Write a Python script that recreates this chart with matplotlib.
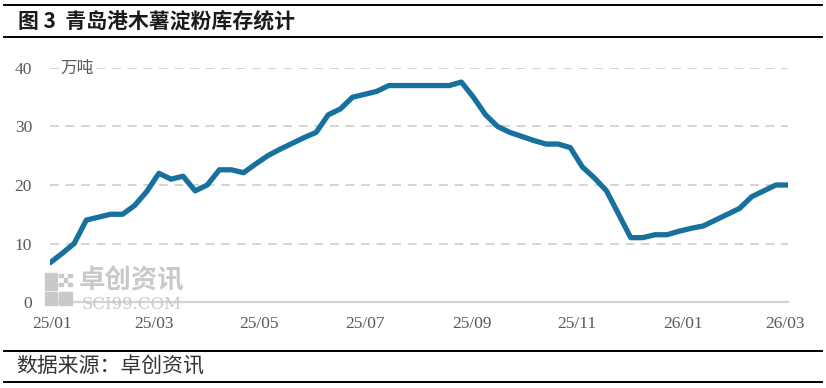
import matplotlib
matplotlib.use('Agg')
import matplotlib.pyplot as plt
import matplotlib.patches as mpatches
from matplotlib.lines import Line2D
import pandas as pd

plt.rcParams['font.family'] = ['Liberation Serif', 'Noto Sans CJK SC', 'DejaVu Sans']

# ---- data ----
inventory = [6.7, 8.3, 10.0, 14.0, 14.5, 15.0, 15.0, 16.5, 18.9, 22.0,
             21.0, 21.5, 19.0, 20.0, 22.6, 22.6, 22.1, 23.6, 25.0, 26.1,
             27.1, 28.1, 29.0, 32.0, 33.0, 35.0, 35.5, 36.0, 37.0, 37.0,
             37.0, 37.0, 37.0, 37.0, 37.6, 35.0, 32.0, 30.0, 29.0, 28.3,
             27.6, 27.0, 27.0, 26.4, 23.1, 21.2, 19.0, 15.0, 11.0, 11.0,
             11.5, 11.5, 12.1, 12.6, 13.0, 14.0, 15.0, 16.0, 18.0, 19.0,
             20.0, 20.0]
start_date = '2024-12-31'
tick_dates = ['2025-01-01', '2025-03-01', '2025-05-01', '2025-07-01',
              '2025-09-01', '2025-11-01', '2026-01-01', '2026-03-01']
tick_labels = ['25/01', '25/03', '25/05', '25/07', '25/09', '25/11', '26/01', '26/03']
y_ticks = [0, 10, 20, 30, 40]
title = '图 3  青岛港木薯淀粉库存统计'
unit = '万吨'
source = '数据来源：卓创资讯'

dates = pd.date_range(start_date, periods=len(inventory), freq='7D')
tdates = pd.to_datetime(tick_dates)

W, H = 826, 388
fig = plt.figure(figsize=(W / 100, H / 100), dpi=100)

def fx(px):
    return px / W

def fy(py):
    return 1 - py / H

ax = fig.add_axes([fx(50), fy(302), fx(788) - fx(50), fy(68) - fy(302)])
ax.plot(dates, inventory, color='#17709e', lw=3.8, solid_capstyle='round',
        solid_joinstyle='round', zorder=3)
ax.set_xlim(dates[0], dates[-1])
ax.set_ylim(0, 40)
ax.set_yticks(y_ticks)
ax.set_xticks(tdates)
ax.set_xticklabels(tick_labels)
for s in ['top', 'right', 'left']:
    ax.spines[s].set_visible(False)
ax.spines['bottom'].set_color('#d4d4d4')
ax.spines['bottom'].set_linewidth(1.6)
ax.tick_params(axis='both', length=0, labelsize=12.5, labelcolor='#595959')
ax.tick_params(axis='y', pad=13)
ax.tick_params(axis='x', pad=10)
for yv in y_ticks[1:]:
    ax.axhline(yv, color='#d4d4d4', lw=1.4, ls=(0, (4.5, 3.5)), zorder=1)
ax.text(0.014, 40, unit, transform=ax.get_yaxis_transform(), ha='left',
        va='center', fontsize=12, color='#595959', family=['Noto Sans CJK SC'],
        bbox=dict(facecolor='white', edgecolor='none', pad=1), zorder=2)

# ---- watermark ----
wm = '#c9c9c9'
fig.patches.append(mpatches.Rectangle((fx(45), fy(290)), fx(12), fy(273) - fy(290),
                                      transform=fig.transFigure, color=wm, zorder=5))
for i in range(3):
    for j in range(3):
        if (i + j) % 2 == 0:
            fig.patches.append(mpatches.Rectangle((fx(59 + i * 4.5), fy(277 + j * 4.5)),
                                                  fx(3.5), fy(0) - fy(3.5),
                                                  transform=fig.transFigure, color=wm, zorder=5))
fig.patches.append(mpatches.Rectangle((fx(45), fy(305)), fx(12), fy(292) - fy(305),
                                      transform=fig.transFigure, color=wm, zorder=5))
fig.patches.append(mpatches.Rectangle((fx(59), fy(305)), fx(13), fy(292) - fy(305),
                                      transform=fig.transFigure, color=wm, zorder=5))
fig.text(fx(79), fy(281), '卓创资讯', fontsize=19, color=wm, fontweight='bold',
         family=['Noto Sans CJK SC'], ha='left', va='center', zorder=5)
fig.text(fx(82), fy(304.5), 'SCI99.COM', fontsize=12, color=wm,
         family=['DejaVu Serif'], ha='left', va='center', zorder=5)

# ---- title / footer ----
fig.text(fx(18), fy(21), title, fontsize=15, fontweight='bold', color='#1a1a1a',
         ha='left', va='center', family=['Noto Sans CJK SC'])
fig.text(fx(16), fy(367), source, fontsize=15, color='#333333',
         ha='left', va='center', family=['Noto Sans CJK SC'])
for yy in [5, 37, 351, 382]:
    fig.add_artist(Line2D([fx(4), fx(822)], [fy(yy), fy(yy)], color='black', lw=1.4,
                          transform=fig.transFigure))

fig.savefig('out.png', dpi=100)
